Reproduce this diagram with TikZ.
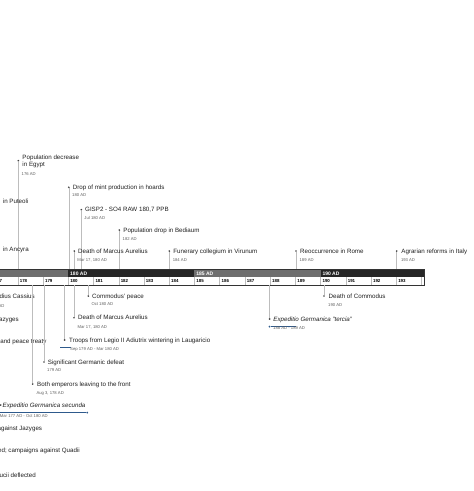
\documentclass[tikz,border=0pt]{standalone}
\usepackage{fontspec}
\setmainfont{Liberation Sans}
\definecolor{ttl}{HTML}{202020}
\definecolor{dte}{HTML}{606060}
\definecolor{stm}{HTML}{BDBDBD}
\definecolor{dotc}{HTML}{444444}
\definecolor{eraA}{HTML}{6E6E6E}
\definecolor{eraB}{HTML}{262626}
\definecolor{durc}{HTML}{2E5A8C}
\definecolor{axb}{HTML}{333333}
\tikzset{
  evtitle/.style={anchor=base west, inner sep=0pt, text=ttl, font=\fontsize{6.2}{7}\selectfont},
  evital/.style={evtitle, font=\fontsize{6.2}{7}\selectfont\itshape},
  evtitleR/.style={evtitle, anchor=base east},
  evdate/.style={anchor=base west, inner sep=0pt, text=dte, font=\fontsize{4.2}{5}\selectfont},
  evdot/.style={circle, fill=dotc, inner sep=0pt, minimum size=1.9pt},
  stem/.style={draw=stm, line width=0.6pt},
  yearlbl/.style={anchor=base west, inner sep=0pt, font=\fontsize{4.4}{4.4}\selectfont\bfseries, text=black},
  eralbl/.style={anchor=base west, inner sep=0pt, font=\fontsize{5}{5}\selectfont\bfseries, text=white},
  dur/.style={draw=durc, line width=0.9pt},
  durdot/.style={circle, fill=durc, inner sep=0pt, minimum size=2pt},
}
\begin{document}
\begin{tikzpicture}[x=1pt,y=-1pt]
\useasboundingbox (0,0) rectangle (474,491);
\clip (0,0) rectangle (474,491);
\fill[white] (0,0) rectangle (474,491);

% ---------- axis ----------
\fill[eraA] (-10,269.3) rectangle (68.3,277);
\fill[eraB] (68.3,269.3) rectangle (194.4,277);
\fill[eraA] (194.4,269.3) rectangle (320.5,277);
\fill[eraB] (320.5,269.3) rectangle (424,277);
\fill[white] (-10,277) rectangle (424,285);
\foreach \k in {-4,...,14} \draw[stm, line width=0.4pt] (68.3+25.23*\k,277) -- ++(0,8);
\foreach \yr [evaluate=\yr as \xx using 68.3+25.23*(\yr-180)+1.8] in {177,...,193}
  \node[yearlbl] at (\xx,282.7) {\yr};
\draw[axb, line width=0.7pt] (-10,269.3) rectangle (424,285);
\node[eralbl] (era180) at (70,275.1) {180 AD};
\node[eralbl] (era185) at (196.2,275.1) {185 AD};
\node[eralbl] (era190) at (322.3,275.1) {190 AD};

% ---------- events above the axis ----------
\node[evdot] (egypt) at (18.3,160.7) {};
\node[evtitle] (egyptT) at (22.3,159.5) {Population decrease};
\node[evtitle] (egyptT2) at (22.3,166.5) {in Egypt};
\node[evdate] (egyptD) at (21.5,175.2) {176 AD};
\coordinate (egyptA) at (18.3,269.3);
\draw[stem] (egypt) -- (egyptA);

\node[evtitle] (puteoli) at (2.7,203.9) {in Puteoli};
\node[evtitle] (ancyra) at (2.7,251.5) {in Ancyra};

\node[evdot] (mint) at (68.8,187.3) {};
\node[evtitle] (mintT) at (72.6,189.5) {Drop of mint production in hoards};
\node[evdate] (mintD) at (72,196.8) {180 AD};
\coordinate (mintA) at (68.8,269.3);
\draw[stem] (mint) -- (mintA);

\node[evdot] (gisp) at (81.3,209.7) {};
\node[evtitle] (gispT) at (85,211.9) {GISP2 - SO4 RAW 180,7 PPB};
\node[evdate] (gispD) at (84.3,219.2) {Jul 180 AD};
\coordinate (gispA) at (81.3,269.3);
\draw[stem] (gisp) -- (gispA);

\node[evdot] (bedi) at (119.3,230) {};
\node[evtitle] (bediT) at (123.2,232.2) {Population drop in Bediaum};
\node[evdate] (bediD) at (122.5,240.2) {182 AD};
\coordinate (bediA) at (119.3,269.3);
\draw[stem] (bedi) -- (bediA);

\node[evdot] (mau) at (74.3,251) {};
\node[evtitle] (mauT) at (78,253.2) {Death of Marcus Aurelius};
\node[evdate] (mauD) at (77.3,261.2) {Mar 17, 180 AD};
\coordinate (mauA) at (74.3,269.3);
\draw[stem] (mau) -- (mauA);

\node[evdot] (fun) at (169.3,251) {};
\node[evtitle] (funT) at (173.2,253.2) {Funerary collegium in Virunum};
\node[evdate] (funD) at (172.6,261.2) {184 AD};
\coordinate (funA) at (169.3,269.3);
\draw[stem] (fun) -- (funA);

\node[evdot] (reo) at (296,251) {};
\node[evtitle] (reoT) at (300,253.2) {Reoccurrence in Rome};
\node[evdate] (reoD) at (299.4,261.2) {189 AD};
\coordinate (reoA) at (296,269.3);
\draw[stem] (reo) -- (reoA);

\node[evdot] (agr) at (396.7,251) {};
\node[evtitle] (agrT) at (401.2,253.2) {Agrarian reforms in Italy};
\node[evdate] (agrD) at (400.8,261.2) {193 AD};
\coordinate (agrA) at (396.7,269.3);
\draw[stem] (agr) -- (agrA);

% ---------- events below the axis ----------
\node[evtitleR] (cass) at (35,298.2) {Avidius Cassius};
\node[evdate, anchor=base east] (cassD) at (4.7,307.2) {175 AD};
\node[evtitleR] (jaz) at (19,321.5) {Jazyges};
\node[evtitleR] (peace) at (46.7,343) {and peace treaty};

\node[evdot] (cpeace) at (88.3,296) {};
\node[evtitle] (cpeaceT) at (92,298.2) {Commodus' peace};
\node[evdate] (cpeaceD) at (91.3,305.8) {Oct 180 AD};
\coordinate (cpeaceA) at (88.3,285);
\draw[stem] (cpeaceA) -- (cpeace);

\node[evdot] (maub) at (74,317.7) {};
\node[evtitle] (maubT) at (78,319.9) {Death of Marcus Aurelius};
\node[evdate] (maubD) at (77.4,328.2) {Mar 17, 180 AD};
\coordinate (maubA) at (74,285);
\draw[stem] (maubA) -- (maub);

\node[evdot] (troops) at (64.6,340) {};
\node[evtitle] (troopsT) at (69,342.2) {Troops from Legio II Adiutrix wintering in Laugaricio};
\draw[dur] (60,347.9) -- (70.5,347.9);
\node[evdate] (troopsD) at (70,350.8) {Sep 179 AD - Mar 180 AD};
\coordinate (troopsA) at (64.6,285);
\draw[stem] (troopsA) -- (troops);

\node[evdot] (sgd) at (44,362) {};
\node[evtitle] (sgdT) at (47.7,364.2) {Significant Germanic defeat};
\node[evdate] (sgdD) at (47,371.5) {179 AD};
\coordinate (sgdA) at (44,285);
\draw[stem] (sgdA) -- (sgd);

\node[evdot] (emp) at (32.7,384) {};
\node[evtitle] (empT) at (37,386.2) {Both emperors leaving to the front};
\node[evdate] (empD) at (36.3,394.2) {Aug 3, 178 AD};
\coordinate (empA) at (32.7,285);
\draw[stem] (empA) -- (emp);

\node[evdot] (egs) at (0.7,405) {};
\node[evital] (egsT) at (2.5,407.2) {Expeditio Germanica secunda};
\coordinate (egsS) at (-7,412.6);
\node[durdot] (egsE) at (87.2,412.6) {};
\draw[dur] (egsS) -- (egsE);
\node[evdate] (egsD) at (-0.3,417.1) {Mar 177 AD - Oct 180 AD};

\node[evtitleR] (agj) at (42.3,430.5) {against Jazyges};
\node[evtitleR] (quad) at (80,452.2) {ed; campaigns against Quadii};
\node[evtitleR] (defl) at (36,477.2) {ucii deflected};

\node[evdot] (egt) at (269.6,319) {};
\node[evital] (egtT) at (273.2,321.2) {Expeditio Germanica "tercia"};
\node[durdot] (egtS) at (269.6,326.6) {};
\coordinate (egtE) at (296,326.6);
\draw[dur] (egtS) -- (egtE);
\node[evdate] (egtD) at (273,329.5) {188 AD - 189 AD};
\coordinate (egtA) at (269.6,285);
\draw[stem] (egtA) -- (egt);

\node[evdot] (comm) at (324,296) {};
\node[evtitle] (commT) at (328.5,298.2) {Death of Commodus};
\node[evdate] (commD) at (328,306.5) {190 AD};
\coordinate (commA) at (324,285);
\draw[stem] (commA) -- (comm);
\end{tikzpicture}
\end{document}
